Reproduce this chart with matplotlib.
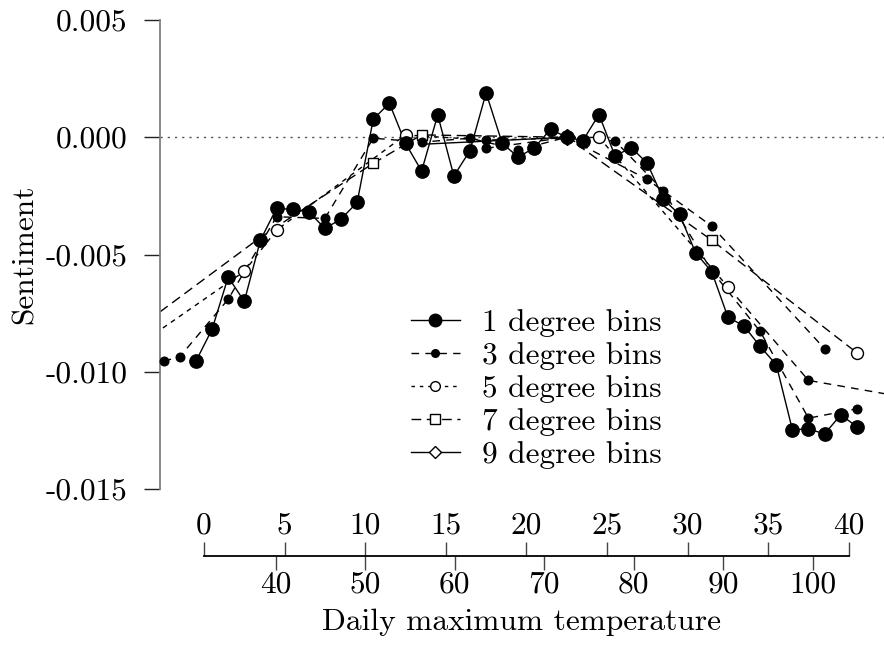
import matplotlib
matplotlib.use('Agg')
import matplotlib.pyplot as plt
from matplotlib.lines import Line2D

plt.rcParams['font.family'] = ['cmr10', 'DejaVu Serif']
plt.rcParams['mathtext.fontset'] = 'cm'
plt.rcParams['axes.unicode_minus'] = False
plt.rcParams['lines.scale_dashes'] = False

# ---------------- data ----------------
deg1_x = [-0.5, 0.5, 1.5, 2.5, 3.5, 4.5, 5.5, 6.5, 7.5, 8.5, 9.5, 10.5, 11.5, 12.5,
          13.5, 14.5, 15.5, 16.5, 17.5, 18.5, 19.5, 20.5, 21.5, 22.5, 23.5, 24.5,
          25.5, 26.5, 27.5, 28.5, 29.5, 30.5, 31.5, 32.5, 33.5, 34.5, 35.5, 36.5,
          37.5, 38.5, 39.5, 40.5]
deg1_y = [-0.00955, -0.00819, -0.00596, -0.00700, -0.00439, -0.00303, -0.00308,
          -0.00318, -0.00389, -0.00349, -0.00278, 0.00077, 0.00145, -0.00026,
          -0.00144, 0.00095, -0.00165, -0.00057, 0.00189, -0.00026, -0.00085,
          -0.00044, 0.00034, 0.0, -0.00015, 0.00097, -0.00080, -0.00044, -0.00111,
          -0.00265, -0.00329, -0.00493, -0.00574, -0.00767, -0.00805, -0.00892,
          -0.00970, -0.01247, -0.01244, -0.01265, -0.01184, -0.01234]

deg3_x = [-2.5, -1.5, 1.5, 4.5, 7.5, 10.5, 13.5, 16.5, 19.5, 22.5, 25.5, 28.5,
          31.5, 34.5, 37.5, 40.5]
deg3_y = [-0.00955, -0.00936, -0.00691, -0.00339, -0.00346, -0.00004, -0.00021,
          -0.00004, -0.00054, 0.0, -0.00016, -0.00228, -0.00570, -0.00828,
          -0.01198, -0.01158]

deg3b_x = [17.5, 22.5, 27.5, 31.5, 38.5]
deg3b_y = [-0.00047, 0.0, -0.00180, -0.00379, -0.00902]

deg5_x = [-7.5, 2.5, 4.5, 12.5, 17.5, 24.5, 32.5]
deg5_y = [-0.01050, -0.00572, -0.00396, 0.00010, -0.00012, 0.0, -0.00638]

tail_x = [32.5, 37.5, 42.5]
tail_y = [-0.00638, -0.01037, -0.01097]

deg7_x = [-3.5, 3.5, 10.5, 13.5, 22.5, 31.5, 40.5]
deg7_y = [-0.00784, -0.00427, -0.00111, 0.00010, 0.0, -0.00439, -0.00919]

deg9_x = [13.5, 22.5]
deg9_y = [-0.00030, 0.0]

open_x = [2.5, 4.5, 12.5, 24.5, 32.5, 40.5]
open_y = [-0.00572, -0.00396, 0.00010, 0.0, -0.00638, -0.00919]
square_x = [10.5, 13.5, 31.5]
square_y = [-0.00111, 0.00010, -0.00439]
extra_dot_x = [17.5, 37.5]
extra_dot_y = [-0.00012, -0.01037]
diamond_x = [22.5]
diamond_y = [0.0]

yticks = [0.005, 0.0, -0.005, -0.010, -0.015]
ytick_labels = ['0.005', '0.000', '-0.005', '-0.010', '-0.015']
c_ticks = [0, 5, 10, 15, 20, 25, 30, 35, 40]
f_ticks = [40, 50, 60, 70, 80, 90, 100]
legend_labels = ['1 degree bins', '3 degree bins', '5 degree bins',
                 '7 degree bins', '9 degree bins']

# ---------------- layout ----------------
W, H = 884, 646
FS = 22.6
fig = plt.figure(figsize=(W / 100, H / 100), dpi=100)
fig.patch.set_facecolor('white')

px_per_c = 16.12
x0_px = 204.0
left_px, right_px = 160.0, 884.0
xmin = (left_px - x0_px) / px_per_c
xmax = (right_px - x0_px) / px_per_c

ax = fig.add_axes([left_px / W, (H - 489) / H, (right_px - left_px) / W, (489 - 20) / H])
ax.set_xlim(xmin, xmax)
ax.set_ylim(-0.015, 0.005)
ax.patch.set_visible(False)
for s in ['top', 'right', 'bottom']:
    ax.spines[s].set_visible(False)
ax.spines['left'].set_bounds(-0.015, 0.005)
ax.spines['left'].set_color('#808080')
ax.spines['left'].set_linewidth(1.3)
ax.set_xticks([])
ax.set_yticks(yticks, ytick_labels)
ax.tick_params(axis='y', length=11.5, width=1.0, pad=12, labelsize=FS, color='#222222')
ax.set_ylabel('Sentiment', fontsize=FS)
ax.yaxis.set_label_coords((39 - left_px) / (right_px - left_px), 0.5)

ax.axhline(0, color='#555555', lw=1.0, dashes=(1.6, 3.6), zorder=1)

lw = 1.0
d3 = (5.5, 4.5)
d5 = (3.5, 3.5)
d7 = (7, 4)
ax.plot(deg1_x, deg1_y, color='k', lw=lw, zorder=3)
ax.plot(deg3_x, deg3_y, color='k', lw=lw, dashes=d3, zorder=2)
ax.plot(deg3b_x, deg3b_y, color='k', lw=lw, dashes=d3, zorder=2)
ax.plot(deg5_x, deg5_y, color='k', lw=lw, dashes=d5, zorder=2)
ax.plot(tail_x, tail_y, color='k', lw=lw, dashes=d3, zorder=2)
ax.plot(deg7_x, deg7_y, color='k', lw=lw, dashes=d7, zorder=2)
ax.plot(deg9_x, deg9_y, color='k', lw=lw, zorder=2)

ax.plot(diamond_x, diamond_y, ls='none', marker='D', ms=8.5, mfc='white', mec='k',
        mew=1.0, zorder=4, clip_on=False)
ax.plot(open_x, open_y, ls='none', marker='o', ms=8.6, mfc='white', mec='k',
        mew=1.0, zorder=5, clip_on=False)
ax.plot(square_x, square_y, ls='none', marker='s', ms=7.6, mfc='white', mec='k',
        mew=1.0, zorder=5, clip_on=False)
ax.plot(deg3_x, deg3_y, ls='none', marker='o', ms=6.2, mfc='k', mec='k', zorder=5,
        clip_on=False)
ax.plot(deg3b_x, deg3b_y, ls='none', marker='o', ms=6.2, mfc='k', mec='k', zorder=5,
        clip_on=False)
ax.plot(extra_dot_x, extra_dot_y, ls='none', marker='o', ms=6.2, mfc='k', mec='k',
        zorder=5, clip_on=False)
ax.plot(deg1_x, deg1_y, ls='none', marker='o', ms=9.6, mfc='k', mec='k', zorder=6,
        clip_on=False)

# legend
handles = [
    Line2D([], [], color='k', lw=lw, marker='o', ms=9, mfc='k', mec='k'),
    Line2D([], [], color='k', lw=lw, dashes=d3, marker='o', ms=5.5, mfc='k', mec='k'),
    Line2D([], [], color='k', lw=lw, dashes=(2.5, 3.5), marker='o', ms=7, mfc='white', mec='k'),
    Line2D([], [], color='k', lw=lw, dashes=d7, marker='s', ms=6.5, mfc='white', mec='k'),
    Line2D([], [], color='k', lw=lw, marker='D', ms=6.5, mfc='white', mec='k'),
]
leg = ax.legend(handles, legend_labels, loc='upper left',
                bbox_to_anchor=(411 / W, 1 - 309 / H), bbox_transform=fig.transFigure,
                frameon=False, fontsize=FS, borderpad=0, borderaxespad=0,
                handlelength=1.55, handletextpad=0.72, labelspacing=0.16)

# temperature axes
axx = fig.add_axes([left_px / W, (H - 556) / H, (right_px - left_px) / W, 1e-6])
axx.set_xlim(xmin, xmax)
axx.set_ylim(0, 1)
axx.patch.set_visible(False)
axx.set_yticks([])
for s in ['left', 'right', 'bottom']:
    axx.spines[s].set_visible(False)
axx.spines['top'].set_bounds(0, 40)
axx.spines['top'].set_linewidth(1.3)
axx.xaxis.set_ticks_position('top')
axx.set_xticks(c_ticks, [str(t) for t in c_ticks])
axx.tick_params(axis='x', direction='out', length=10, width=1.0, pad=2,
                labelsize=FS, top=True, labeltop=True, bottom=False,
                labelbottom=False, color='#444444')


def c2f(c):
    return c * 9.0 / 5.0 + 32.0


def f2c(f):
    return (f - 32.0) * 5.0 / 9.0


sec = axx.secondary_xaxis('bottom', functions=(c2f, f2c))
sec.spines['bottom'].set_visible(False)
sec.set_xticks(f_ticks, [str(t) for t in f_ticks])
sec.tick_params(axis='x', direction='out', length=10, width=1.0, pad=1,
                labelsize=FS, color='#444444')
sec.set_xlabel('Daily maximum temperature', fontsize=FS, labelpad=7)

fig.savefig('out.png', dpi=100)
